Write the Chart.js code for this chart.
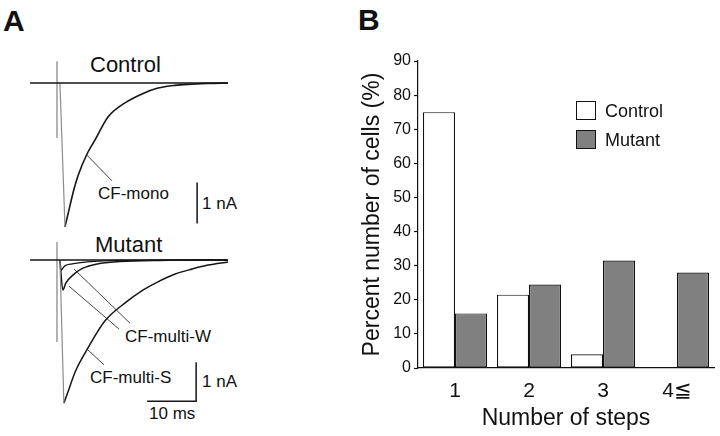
<!DOCTYPE html>
<html>
<head>
<meta charset="utf-8">
<script src="https://cdn.jsdelivr.net/npm/chart.js@4.4.0/dist/chart.umd.min.js"></script>
<style>
  body { margin: 0; width: 720px; height: 436px; background: #fff; position: relative; overflow: hidden;
         font-family: "Liberation Sans", Arial, sans-serif; color: #111; }
  canvas, .t { position: absolute; }
  .t { line-height: 1; white-space: nowrap; }
  .box { position: absolute; width: 18px; height: 17px; border: 1.5px solid #111; }
</style>
</head>
<body>
<div class="t" style="left:3px;top:6px;font-size:30px;font-weight:bold;">A</div>
<div class="t" style="left:358px;top:5px;font-size:30px;font-weight:bold;">B</div>

<div class="t" style="left:90px;top:54px;font-size:22px;">Control</div>
<div class="t" style="left:98px;top:185px;font-size:17px;">CF-mono</div>
<div class="t" style="left:202px;top:195px;font-size:17px;">1 nA</div>

<div class="t" style="left:95px;top:234px;font-size:22px;">Mutant</div>
<div class="t" style="left:125px;top:328px;font-size:17px;">CF-multi-W</div>
<div class="t" style="left:90px;top:369px;font-size:17px;">CF-multi-S</div>
<div class="t" style="left:202px;top:373px;font-size:17px;">1 nA</div>
<div class="t" style="left:149px;top:405px;font-size:17px;">10 ms</div>

<canvas id="controlTrace" width="250" height="200" style="left:0;top:40px;"></canvas>
<canvas id="mutantTrace" width="250" height="200" style="left:0;top:235px;"></canvas>
<canvas id="stepChart" width="390" height="396" style="left:330px;top:40px;"></canvas>

<div class="box" style="left:576px;top:101px;background:#fff;"></div>
<div class="t" style="left:605px;top:102px;font-size:18px;">Control</div>
<div class="box" style="left:576px;top:130px;background:#808080;"></div>
<div class="t" style="left:605px;top:131px;font-size:18px;">Mutant</div>

<script>
// ---- Panel A: traces (time in ms, current in nA relative to baseline) ----
const baseTime = [-0.4, 40.0];
const baseCurrent = [0, 0];

// control
const ctlArtifactTime = [5.1, 5.1];
const ctlArtifactCurrent = [0.56, -1.41];
const ctlFallTime = [5.7, 6.73];
const ctlFallCurrent = [0, -3.69];
const monoTime = [6.73, 7.35, 8.37, 9.39, 11.22, 12.86, 15.51, 18.98, 22.45, 25.71, 29.18, 32.65, 35.92, 40.0];
const monoCurrent = [-3.69, -3.36, -2.82, -2.38, -1.82, -1.46, -0.87, -0.51, -0.28, -0.13, -0.06, -0.03, -0.01, 0];
const monoPointerTime = [11.22, 16.33];
const monoPointerCurrent = [-1.85, -2.51];
const ctlBarTime = [33.7, 33.7];
const ctlBarCurrent = [-2.55, -3.6];

// mutant
const mutArtifactTime = [5.1, 5.1];
const mutArtifactCurrent = [0.46, -2.1];
const mutFallTime = [5.7, 6.5];
const mutFallCurrent = [0, -3.67];
const multiSTime = [6.5, 7.35, 8.8, 11.4, 14.9, 19.0, 22.4, 25.7, 29.2, 32.7, 35.9, 40.0];
const multiSCurrent = [-3.67, -3.38, -2.87, -2.26, -1.56, -1.10, -0.79, -0.56, -0.36, -0.23, -0.13, -0.05];
const multiW1Time = [5.7, 6.3, 6.9, 8.4, 10.4, 13.3, 18.0, 26.1, 40.0];
const multiW1Current = [0, -0.77, -0.59, -0.38, -0.21, -0.10, -0.04, -0.01, 0];
const multiW2Time = [5.7, 5.9, 6.7, 8.2, 11.2, 18.0, 40.0];
const multiW2Current = [0, -0.26, -0.15, -0.10, -0.05, -0.01, 0];
const wPointerATime = [7.55, 17.76];
const wPointerACurrent = [-0.67, -1.77];
const wPointerBTime = [8.57, 20.0];
const wPointerBCurrent = [-0.23, -1.62];
const sPointerTime = [11.2, 14.7];
const sPointerCurrent = [-2.28, -2.69];
const mutBarTime = [23.5, 33.5, 33.5];
const mutBarCurrent = [-3.62, -3.62, -2.62];

// ---- Panel B: bar chart ----
const stepLabels = ["1", "2", "3", "4\u2266"];
const controlPercent = [75, 21.5, 4, 0];
const mutantPercent = [16, 24.5, 31.5, 28];

Chart.defaults.font.family = '"Liberation Sans", Arial, sans-serif';
Chart.defaults.color = "#111";

function trace(times, currents, color, width, smooth) {
  return {
    data: times.map((t, i) => ({ x: t, y: currents[i] })),
    showLine: true,
    borderColor: color,
    borderWidth: width,
    pointRadius: 0,
    tension: 0,
    cubicInterpolationMode: smooth ? "monotone" : "default",
  };
}

function traceChart(id, datasets, yMin, yMax) {
  return new Chart(document.getElementById(id), {
    type: "scatter",
    data: { datasets: datasets },
    options: {
      responsive: false,
      animation: false,
      devicePixelRatio: 1,
      layout: { padding: 0, autoPadding: false },
      plugins: { legend: { display: false }, tooltip: { enabled: false } },
      scales: {
        x: { type: "linear", display: false, min: -6.53, max: 44.49 },
        y: { type: "linear", display: false, min: yMin, max: yMax },
      },
    },
  });
}

const gray = "#8c8c8c";
const black = "#151515";
const pointer = "#444";

traceChart("controlTrace", [
  trace(baseTime, baseCurrent, black, 1.5, false),
  trace(ctlArtifactTime, ctlArtifactCurrent, gray, 1.3, false),
  trace(ctlFallTime, ctlFallCurrent, gray, 1.2, false),
  trace(monoTime, monoCurrent, black, 1.6, true),
  trace(monoPointerTime, monoPointerCurrent, pointer, 1, false),
  trace(ctlBarTime, ctlBarCurrent, black, 1.5, false),
], -4.026, 1.103);

traceChart("mutantTrace", [
  trace(baseTime, baseCurrent, black, 1.5, false),
  trace(mutArtifactTime, mutArtifactCurrent, gray, 1.3, false),
  trace(mutFallTime, mutFallCurrent, gray, 1.2, false),
  trace(multiSTime, multiSCurrent, black, 1.5, true),
  trace(multiW1Time, multiW1Current, black, 1.5, true),
  trace(multiW2Time, multiW2Current, black, 1.3, true),
  trace(wPointerATime, wPointerACurrent, pointer, 1, false),
  trace(wPointerBTime, wPointerBCurrent, pointer, 1, false),
  trace(sPointerTime, sPointerCurrent, pointer, 1, false),
  trace(mutBarTime, mutBarCurrent, black, 1.5, false),
], -4.487, 0.641);

new Chart(document.getElementById("stepChart"), {
  type: "bar",
  data: {
    labels: stepLabels,
    datasets: [
      {
        label: "Control",
        data: controlPercent,
        backgroundColor: "#ffffff",
        borderColor: "#111",
        borderWidth: 1.2,
        borderSkipped: false,
      },
      {
        label: "Mutant",
        data: mutantPercent,
        backgroundColor: "#808080",
        borderColor: "#111",
        borderWidth: 1.2,
        borderSkipped: false,
      },
    ],
  },
  options: {
    responsive: false,
    animation: false,
    devicePixelRatio: 1,
    layout: { padding: { top: 21, right: 6, left: 0, bottom: 0 } },
    datasets: { bar: { categoryPercentage: 0.865, barPercentage: 1 } },
    plugins: { legend: { display: false }, tooltip: { enabled: false } },
    scales: {
      x: {
        grid: { display: false, drawTicks: false },
        border: { color: "#111", width: 1.2 },
        ticks: { font: { size: 21 }, padding: 11 },
        title: { display: true, text: "Number of steps", font: { size: 23 }, padding: { top: 0, bottom: 4 } },
        afterFit: (s) => { s.height = 68; },
      },
      y: {
        min: 0,
        max: 90,
        ticks: { stepSize: 10, font: { size: 16 }, padding: 3 },
        grid: { drawOnChartArea: false, tickLength: 4, color: "#111", tickWidth: 1.2 },
        border: { color: "#111", width: 1.2 },
        title: { display: true, text: "Percent number of cells (%)", font: { size: 23 }, padding: { top: 29, bottom: 0 } },
        afterFit: (s) => { s.width = 88; },
      },
    },
  },
});
</script>
</body>
</html>
